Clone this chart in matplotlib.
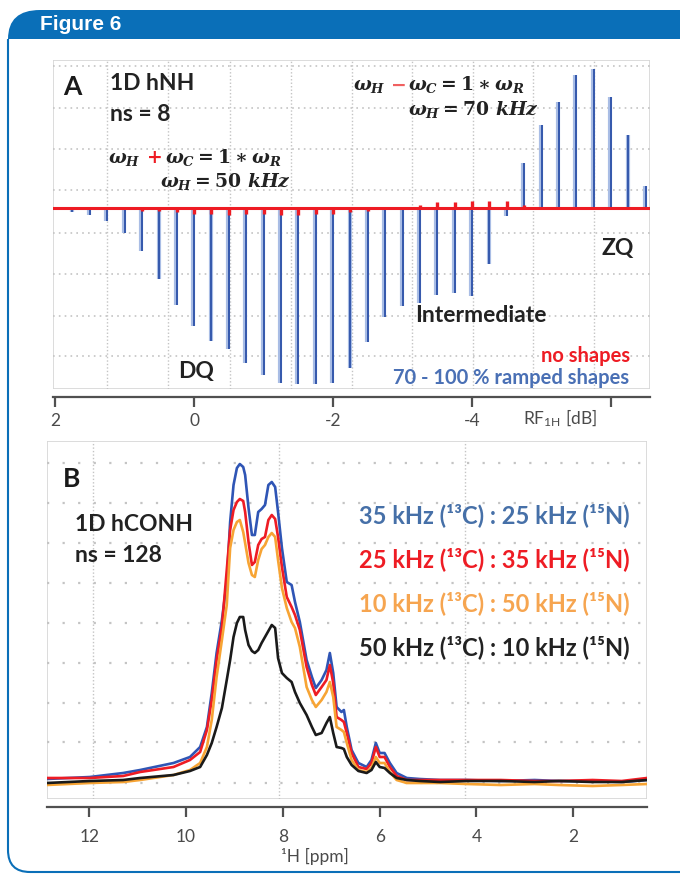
import matplotlib
matplotlib.use("Agg")
import matplotlib.pyplot as plt
from matplotlib.patches import PathPatch, Rectangle
from matplotlib.path import Path

plt.rcParams['font.family'] = ['Lato', 'DejaVu Sans']
plt.rcParams['mathtext.fontset'] = 'custom'
plt.rcParams['mathtext.rm'] = 'DejaVu Serif:bold'
plt.rcParams['mathtext.it'] = 'DejaVu Serif:italic:bold'
plt.rcParams['mathtext.bf'] = 'DejaVu Serif:bold'
plt.rcParams['mathtext.sf'] = 'Lato'

# ---- panel A: hNH transfer vs RF (dB) ----
rf_db = [2.0, 1.75, 1.5, 1.25, 1.0, 0.75, 0.5, 0.25, 0.0, -0.25, -0.5, -0.75,
         -1.0, -1.25, -1.5, -1.75, -2.0, -2.25, -2.5, -2.75, -3.0, -3.25, -3.5,
         -3.75, -4.0, -4.25, -4.5, -4.75, -5.0, -5.25, -5.5, -5.75, -6.0, -6.25, -6.5]
ramped = [-0.01, -0.03, -0.05, -0.09, -0.18, -0.31, -0.51, -0.69, -0.84, -0.95, -1.01,
          -1.11, -1.19, -1.25, -1.26, -1.26, -1.25, -1.14, -0.96, -0.78, -0.70, -0.68,
          -0.62, -0.61, -0.63, -0.40, -0.06, 0.32, 0.59, 0.76, 0.95, 0.99, 0.79, 0.52, 0.16]
no_shapes = [-0.01, -0.01, -0.01, -0.01, -0.01, -0.02, -0.02, -0.03, -0.04, -0.04, -0.05,
             -0.04, -0.04, -0.05, -0.05, -0.04, -0.04, -0.03, -0.02, -0.01, 0.01, 0.02,
             0.04, 0.04, 0.05, 0.05, 0.05, 0.02, 0.0, 0.0, 0.0, 0.0, 0.0, 0.0, 0.0]
a_ticks = [2, 0, -2, -4, -6]
a_ticklabels = ['2', '0', '-2', '-4', '']

# ---- panel B: 1D hCONH spectra ----
ppm = [12.88, 11.99, 11.30, 10.95, 10.26, 9.92, 9.71, 9.57, 9.47, 9.37, 9.26, 9.16,
       9.09, 9.02, 8.95, 8.89, 8.82, 8.78, 8.71, 8.64, 8.58, 8.51, 8.44, 8.37, 8.30,
       8.23, 8.16, 8.10, 8.02, 7.92, 7.82, 7.75, 7.65, 7.51, 7.40, 7.32, 7.20, 7.10,
       7.03, 6.96, 6.89, 6.79, 6.74, 6.68, 6.58, 6.44, 6.27, 6.17, 6.08, 6.00, 5.90,
       5.79, 5.65, 5.44, 5.17, 4.75, 4.2, 3.5, 2.8, 2.3, 1.6, 1.0, 0.48]
blue_35_25 = [0.06, 0.08, 0.12, 0.15, 0.22, 0.28, 0.38, 0.58, 0.92, 1.32, 1.65, 2.03,
              2.63, 3.00, 3.17, 3.21, 3.18, 3.10, 2.77, 2.50, 2.50, 2.73, 2.76, 2.80, 3.00,
              3.03, 2.98, 2.73, 2.37, 2.03, 2.00, 1.83, 1.63, 1.25, 1.08, 0.97, 1.05, 1.15,
              1.32, 1.12, 0.78, 0.73, 0.75, 0.58, 0.35, 0.22, 0.18, 0.25, 0.42, 0.32, 0.32,
              0.22, 0.12, 0.07, 0.06, 0.05, 0.05, 0.04, 0.05, 0.04, 0.04, 0.03, 0.05]
red_25_35 = [0.07, 0.07, 0.09, 0.13, 0.18, 0.25, 0.33, 0.55, 0.85, 1.25, 1.58, 2.15,
             2.55, 2.75, 2.83, 2.86, 2.84, 2.73, 2.43, 2.20, 2.23, 2.40, 2.46, 2.48, 2.65,
             2.70, 2.66, 2.48, 2.18, 1.88, 1.78, 1.70, 1.55, 1.18, 1.00, 0.90, 0.98, 1.05,
             1.20, 1.02, 0.68, 0.65, 0.63, 0.52, 0.32, 0.18, 0.16, 0.22, 0.38, 0.28, 0.28,
             0.18, 0.09, 0.05, 0.05, 0.05, 0.05, 0.05, 0.04, 0.04, 0.05, 0.04, 0.07]
orange_10_50 = [0.00, 0.02, 0.03, 0.05, 0.10, 0.15, 0.22, 0.38, 0.65, 1.08, 1.45, 1.80,
                2.37, 2.55, 2.63, 2.65, 2.53, 2.42, 2.22, 2.10, 2.08, 2.25, 2.36, 2.40, 2.48,
                2.52, 2.48, 2.25, 1.97, 1.77, 1.63, 1.57, 1.38, 0.98, 0.85, 0.78, 0.85, 0.93,
                1.03, 0.88, 0.58, 0.55, 0.53, 0.42, 0.25, 0.15, 0.13, 0.17, 0.28, 0.22, 0.22,
                0.13, 0.05, 0.02, 0.02, 0.02, 0.01, 0.00, 0.01, 0.00, -0.01, 0.00, 0.01]
black_50_10 = [0.02, 0.04, 0.05, 0.07, 0.10, 0.14, 0.18, 0.30, 0.42, 0.58, 0.77, 1.05,
               1.25, 1.48, 1.62, 1.68, 1.68, 1.55, 1.40, 1.34, 1.32, 1.35, 1.42, 1.48, 1.54,
               1.60, 1.57, 1.27, 1.12, 1.07, 1.03, 0.93, 0.82, 0.70, 0.58, 0.50, 0.52, 0.62,
               0.68, 0.52, 0.38, 0.37, 0.36, 0.28, 0.20, 0.14, 0.12, 0.15, 0.23, 0.18, 0.17,
               0.12, 0.07, 0.05, 0.04, 0.03, 0.04, 0.04, 0.03, 0.04, 0.03, 0.03, 0.05]
b_ticks = [12, 10, 8, 6, 4, 2]

W, H = 680, 874
BLUE_HDR = '#0a6fb8'
GRID = '#c4c4c4'
AXC = '#505050'


def frac(x0, y0, x1, y1):
    return [x0 / W, 1 - y1 / H, (x1 - x0) / W, (y1 - y0) / H]


def ftext(x, y, s, **kw):
    fig.text(x / W, 1 - y / H, s, **kw)


fig = plt.figure(figsize=(6.8, 8.74), dpi=100)

# frame + header
bg = fig.add_axes([0, 0, 1, 1], zorder=-5)
bg.set_xlim(0, W)
bg.set_ylim(H, 0)
bg.axis('off')
hdr = Path([(8, 39), (8, 10), (40, 10), (W, 10), (W, 39), (8, 39)],
           [Path.MOVETO, Path.CURVE3, Path.CURVE3, Path.LINETO, Path.LINETO, Path.CLOSEPOLY])
bg.add_patch(PathPatch(hdr, facecolor=BLUE_HDR, edgecolor='none'))
border = Path([(8, 39), (8, 850), (8, 872), (30, 872), (W, 872)],
              [Path.MOVETO, Path.LINETO, Path.CURVE3, Path.CURVE3, Path.LINETO])
bg.add_patch(PathPatch(border, facecolor='none', edgecolor=BLUE_HDR, lw=1.5))
ftext(40, 30, 'Figure 6', color='white', fontsize=15, fontweight='bold',
      family=['Liberation Sans', 'DejaVu Sans'], va='baseline')


def style_axes(ax):
    ax.add_patch(Rectangle((0, 0), 1, 1, transform=ax.transAxes, fill=False,
                           edgecolor='#d6d6d6', lw=1.2, zorder=0.5))
    for s in ['left', 'right', 'top']:
        ax.spines[s].set_visible(False)
    ax.spines['bottom'].set_position(('outward', 6))
    ax.spines['bottom'].set_color(AXC)
    ax.spines['bottom'].set_linewidth(1.6)
    ax.tick_params(axis='x', which='major', direction='out', length=7.5, width=1.6,
                   color=AXC, labelcolor='#4a4a4a', labelsize=12.5)
    ax.tick_params(axis='x', which='minor', length=0)
    ax.tick_params(axis='y', left=False, labelleft=False)


# ---- panel A ----
axA = fig.add_axes(frac(53, 60, 650, 389))
axA.set_xlim(2.03, -6.56)
axA.set_ylim(-1.293, 1.057)
style_axes(axA)
axA.set_xticks(a_ticks)
axA.set_xticklabels(a_ticklabels)
axA.tick_params(axis='x', pad=4)
axA.set_yticks([1.014, 0.714, 0.421, 0.129, -0.179, -0.471, -0.771, -1.057])
axA.set_xticks([1.252, 0.374, -0.518, -1.396, -2.273, -3.137, -4.014, -4.878, -5.755], minor=True)
axA.grid(axis='y', which='major', color=GRID, ls=(0, (1, 2.5)), lw=1.2)
axA.grid(axis='x', which='minor', color=GRID, ls=(0, (1, 1.5)), lw=1.0)

axA.axhline(0, color='#2b50a8', lw=1.2, zorder=2)
axA.vlines([p + 0.012 for p in rf_db], 0, ramped, color='#a9bde5', lw=3.0, zorder=2)
axA.vlines(rf_db, 0, ramped, color='#2b50a8', lw=1.3, zorder=3)
axA.axhline(0, color='#ee1c24', lw=2.2, zorder=4)
axA.vlines(rf_db, 0, no_shapes, color='#ee1c24', lw=2.4, zorder=4)

ftext(63, 95, 'A', fontsize=19, fontweight='bold', color='#1a1a1a', va='baseline')
ftext(110, 90, '1D hNH', fontsize=16.5, fontweight='bold', color='#222222', va='baseline')
ftext(110, 121, 'ns = 8', fontsize=16.5, fontweight='bold', color='#222222', va='baseline')

mkw = dict(fontsize=13.5, color='#222222', va='baseline')
ftext(108, 163, r'$\omega_H$', **mkw)
ftext(146, 163, r'$+$', fontsize=13.5, color='#ee1c24', va='baseline')
ftext(165, 163, r'$\omega_C = 1 \ast \omega_R$', **mkw)
ftext(160, 187, r'$\omega_H = 50\ kHz$', **mkw)
ftext(353, 90, r'$\omega_H$', **mkw)
ftext(390, 90, r'$-$', fontsize=13.5, color='#f06060', va='baseline')
ftext(408, 90, r'$\omega_C = 1 \ast \omega_R$', **mkw)
ftext(408, 115, r'$\omega_H = 70\ kHz$', **mkw)

lab = dict(fontsize=16.5, fontweight='bold', color='#222222', va='baseline')
ftext(178, 378, 'DQ', **lab)
ftext(415, 322, 'Intermediate', **lab)
ftext(602, 255, 'ZQ', **lab)
ftext(630, 362, 'no shapes', fontsize=14.5, fontweight='bold', color='#ee1c24',
      ha='right', va='baseline')
ftext(629, 384, '70 - 100 % ramped shapes', fontsize=14.5, fontweight='bold',
      color='#4a70b5', ha='right', va='baseline')
ftext(523, 424, r'RF$_{\mathsf{1H}}$ [dB]', fontsize=12.5, color='#4a4a4a', va='baseline')

# ---- panel B ----
axB = fig.add_axes(frac(47, 441, 647, 799))
axB.set_xlim(12.874, 0.477)
axB.set_ylim(-0.14, 3.44)
style_axes(axB)
axB.set_xticks(b_ticks)
axB.set_xticklabels([str(t) for t in b_ticks])
axB.tick_params(axis='x', pad=8)
axB.set_yticks([3.22, 2.82, 2.42, 2.02, 1.62, 1.22, 0.82, 0.43, 0.02])
axB.set_xticks([11.92, 8.08, 4.24], minor=True)
axB.grid(axis='y', which='major', color=GRID, ls=(0, (1, 6)), lw=1.6)
axB.grid(axis='x', which='minor', color=GRID, ls=(0, (1, 1.5)), lw=1.0)

lkw = dict(lw=1.9, solid_joinstyle='round', zorder=3)
axB.plot(ppm, blue_35_25, color='#2f55b5', **lkw)
axB.plot(ppm, red_25_35, color='#ee1c24', **lkw)
axB.plot(ppm, orange_10_50, color='#f7a434', **lkw)
axB.plot(ppm, black_50_10, color='#1a1a1a', **lkw)

ftext(63, 487, 'B', fontsize=19, fontweight='bold', color='#1a1a1a', va='baseline')
ftext(75, 531, '1D hCONH', fontsize=16.5, fontweight='bold', color='#222222', va='baseline')
ftext(75, 562, 'ns = 128', fontsize=16.5, fontweight='bold', color='#222222', va='baseline')

legend_rows = [('35 kHz (\u00b9\u00b3C) : 25 kHz (\u00b9\u2075N)', '#4670a8', 523),
               ('25 kHz (\u00b9\u00b3C) : 35 kHz (\u00b9\u2075N)', '#ee1c24', 567),
               ('10 kHz (\u00b9\u00b3C) : 50 kHz (\u00b9\u2075N)', '#f6a550', 611),
               ('50 kHz (\u00b9\u00b3C) : 10 kHz (\u00b9\u2075N)', '#222222', 655)]
for txt, col, yb in legend_rows:
    ftext(630, yb, txt, fontsize=17, fontweight='bold', color=col, ha='right', va='baseline')

ftext(315, 862, '\u00b9H [ppm]', fontsize=12.5, color='#4a4a4a', ha='center', va='baseline')

fig.savefig('out.png', dpi=100)
